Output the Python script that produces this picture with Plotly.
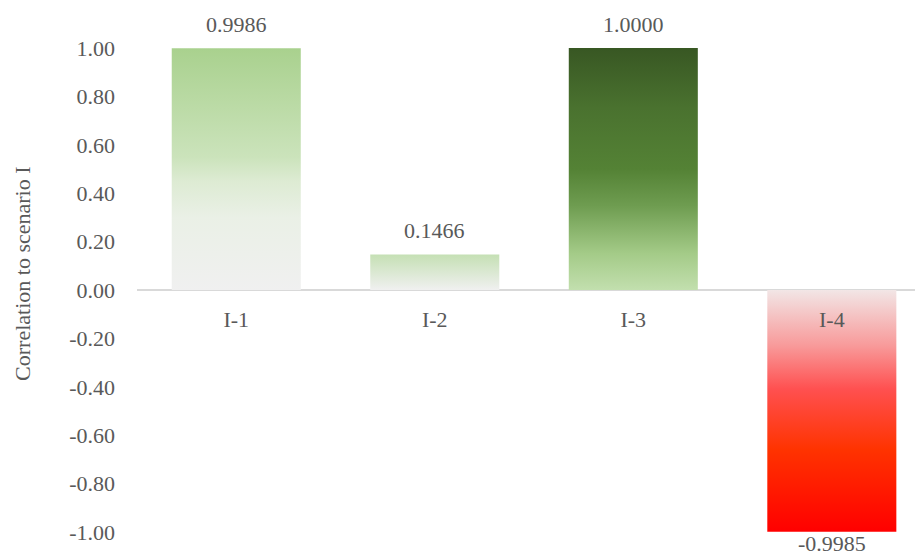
import plotly.graph_objects as go

# Correlation of each sub-scenario with scenario I
categories = ["I-1", "I-2", "I-3", "I-4"]
correlations = [0.9986, 0.1466, 1.0000, -0.9985]

# Vertical gradient for each bar (0 = lowest edge, 1 = highest edge)
gradients = [
    [[0, "#F0F0F0"], [0.3, "#EAF0E6"], [0.45, "#DDEBD3"], [0.55, "#CBE3BB"], [1, "#A9D18E"]],
    [[0, "#F0F0F0"], [1, "#C5E0B4"]],
    [[0, "#C2DFAE"], [0.15, "#A4CB88"], [0.35, "#6E9C50"], [0.5, "#548235"],
     [0.75, "#4A722F"], [1, "#385723"]],
    [[0, "#FF0000"], [0.34, "#FF3300"], [0.59, "#FF5050"], [0.77, "#F89A9A"], [1, "#F2E6E6"]],
]

y_ticks = [-1.0, -0.8, -0.6, -0.4, -0.2, 0.0, 0.2, 0.4, 0.6, 0.8, 1.0]

FONT = "Liberation Serif, Times New Roman, serif"
GREY = "#595959"
BAR_HALF = 0.325

fig = go.Figure()

# Each bar is a filled rectangle so that it can carry a vertical gradient
for i, (val, scale) in enumerate(zip(correlations, gradients)):
    x0, x1 = i - BAR_HALF, i + BAR_HALF
    fig.add_trace(go.Scatter(
        x=[x0, x1, x1, x0, x0],
        y=[0, 0, val, val, 0],
        mode="lines",
        fill="toself",
        fillgradient=dict(type="vertical", colorscale=scale),
        line=dict(width=0),
        hoverinfo="skip",
        showlegend=False,
    ))

# Value labels at the end of each bar
for i, val in enumerate(correlations):
    fig.add_annotation(
        x=i, y=val, xref="x", yref="y",
        text=f"{val:.4f}",
        showarrow=False,
        yanchor="middle",
        yshift=24 if val >= 0 else -12,
        font=dict(family=FONT, size=22, color=GREY),
    )

# Axis title
fig.add_annotation(
    x=-0.148, y=0.533, xref="paper", yref="paper",
    text="Correlation to scenario I",
    textangle=-90,
    showarrow=False,
    xanchor="center", yanchor="middle",
    font=dict(family=FONT, size=22, color=GREY),
)

fig.update_layout(
    width=915, height=556,
    margin=dict(l=137, r=0, t=48, b=24),
    paper_bgcolor="white",
    plot_bgcolor="white",
    showlegend=False,
    xaxis=dict(
        range=[-0.5, 3.419],
        tickvals=list(range(len(categories))),
        ticktext=categories,
        anchor="free",
        position=0.5,
        showline=False,
        showgrid=False,
        zeroline=False,
        ticks="",
        ticklabelstandoff=14,
        tickfont=dict(family=FONT, size=22, color=GREY),
    ),
    yaxis=dict(
        range=[-1.0, 1.0],
        tickvals=y_ticks,
        ticktext=[f"{v:.2f}" for v in y_ticks],
        showgrid=False,
        showline=False,
        zeroline=True,
        zerolinecolor="#D9D9D9",
        zerolinewidth=2,
        ticks="",
        ticklabelstandoff=21,
        tickfont=dict(family=FONT, size=22, color=GREY),
    ),
)

fig.write_html("out.html")
